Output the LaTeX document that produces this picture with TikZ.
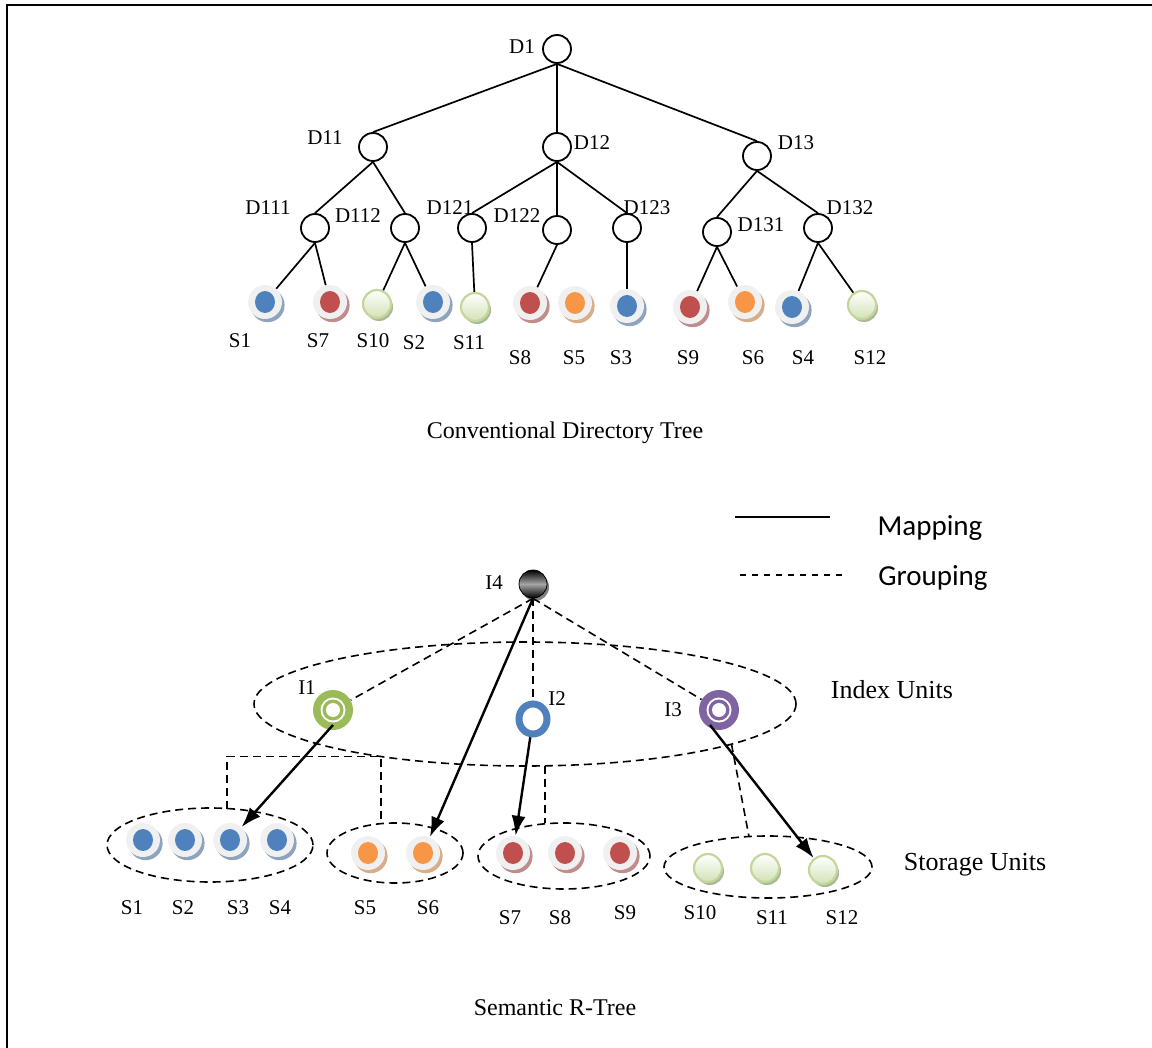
\documentclass[tikz,border=0pt]{standalone}
\usepackage{fontspec}
\setmainfont{Liberation Serif}
\newfontfamily\legendfont{Carlito}
\usetikzlibrary{arrows.meta,shapes.geometric,shadows}
\definecolor{sblue}{HTML}{4F81BD}
\definecolor{sred}{HTML}{C0504D}
\definecolor{sorange}{HTML}{F79646}
\definecolor{sgreen}{HTML}{9BBB59}
\definecolor{spurple}{HTML}{8064A2}
\definecolor{sdisk}{HTML}{F0F0F0}
\definecolor{gborder}{HTML}{C3D69B}
\definecolor{gfill}{HTML}{D3E2B6}
\definecolor{gshadow}{HTML}{AAB897}
\begin{document}
\begin{tikzpicture}[x=0.5pt,y=-0.5pt,
dir/.style={circle,draw,line width=0.9pt,minimum size=14pt,inner sep=0pt},
branch/.style={line width=0.85pt},
lbl/.style={font=\fontsize{10.5}{12}\selectfont,inner sep=0pt},
caption/.style={font=\fontsize{12}{14}\selectfont,inner sep=0pt},
unittext/.style={font=\fontsize{13}{15}\selectfont,inner sep=0pt},
legtext/.style={font=\legendfont\fontsize{14.5}{17}\selectfont,inner sep=0pt},
store/.style={circle,fill=sdisk,minimum size=17pt,inner sep=0pt,
  drop shadow={shadow xshift=1.3pt,shadow yshift=-1.6pt,fill=#1!45!lightgray,opacity=1},
  path picture={\fill[#1] (path picture bounding box.center) ellipse (5pt and 5.5pt);}},
gball/.style={circle,draw=gborder,line width=1.1pt,top color=white,bottom color=gfill,
  minimum size=14pt,inner sep=0pt,
  drop shadow={shadow xshift=1pt,shadow yshift=-1.5pt,fill=gshadow,opacity=1}},
ring/.style={circle,fill=#1,minimum size=20pt,inner sep=0pt,
  path picture={\fill[white] (path picture bounding box.center) circle (6.25pt);
    \fill[#1] (path picture bounding box.center) circle (5.25pt);
    \fill[white] (path picture bounding box.center) circle (3.5pt);}},
grp/.style={dashed,dash pattern=on 4pt off 2.5pt,line width=0.8pt},
mapline/.style={line width=1.2pt,-{Latex[length=10pt,width=7pt]}},
grpell/.style={ellipse,draw,grp,inner sep=0pt,outer sep=0pt}]
\useasboundingbox (0,0) rectangle (1152,1048);
\draw[line width=1.2pt] (1152,5) -- (7,5) -- (7,1048);

\node[dir] (D1) at (557,49) {};
\node[dir] (D11) at (373,147) {};
\node[dir] (D12) at (557,147) {};
\node[dir] (D13) at (757,156) {};
\node[dir] (D111) at (315,228) {};
\node[dir] (D112) at (405,228) {};
\node[dir] (D121) at (472,228) {};
\node[dir] (D122) at (557,230) {};
\node[dir] (D123) at (627,228) {};
\node[dir] (D131) at (717,232) {};
\node[dir] (D132) at (818,228) {};
\node[lbl] (lD1) at (522,47) {D1};
\node[lbl] (lD11) at (325,138) {D11};
\node[lbl] (lD12) at (592,143) {D12};
\node[lbl] (lD13) at (796,143) {D13};
\node[lbl] (lD111) at (268,208) {D111};
\node[lbl] (lD112) at (358,216) {D112};
\node[lbl] (lD121) at (450,208) {D121};
\node[lbl] (lD122) at (517,216) {D122};
\node[lbl] (lD123) at (647,208) {D123};
\node[lbl] (lD131) at (761,225) {D131};
\node[lbl] (lD132) at (850,208) {D132};

\node[store=sblue] (cs1) at (265,302) {};
\node[store=sred] (cs7) at (330,302) {};
\node[gball] (cs10) at (377,304) {};
\node[store=sblue] (cs2) at (433,302) {};
\node[gball] (cs11) at (475,307) {};
\node[store=sred] (cs8) at (530,303) {};
\node[store=sorange] (cs5) at (575,303) {};
\node[store=sblue] (cs3) at (627,306) {};
\node[store=sred] (cs9) at (690,307) {};
\node[store=sorange] (cs6) at (745,302) {};
\node[store=sblue] (cs4) at (792,307) {};
\node[gball] (cs12) at (862,305) {};
\node[lbl] (lcs1) at (240,341) {S1};
\node[lbl] (lcs7) at (318,341) {S7};
\node[lbl] (lcs10) at (373,341) {S10};
\node[lbl] (lcs2) at (414,343) {S2};
\node[lbl] (lcs11) at (469,343) {S11};
\node[lbl] (lcs8) at (520,358) {S8};
\node[lbl] (lcs5) at (574,358) {S5};
\node[lbl] (lcs3) at (621,358) {S3};
\node[lbl] (lcs9) at (688,358) {S9};
\node[lbl] (lcs6) at (753,358) {S6};
\node[lbl] (lcs4) at (803,358) {S4};
\node[lbl] (lcs12) at (870,358) {S12};

\draw[branch] (D1.south) -- (D11.north);
\draw[branch] (D1.south) -- (D12.north);
\draw[branch] (D1.south) -- (D13.north);
\draw[branch] (D11.south) -- (D111.north);
\draw[branch] (D11.south) -- (D112.north);
\draw[branch] (D12.south) -- (D121.north);
\draw[branch] (D12.south) -- (D122.north);
\draw[branch] (D12.south) -- (D123.north);
\draw[branch] (D13.south) -- (D131.north);
\draw[branch] (D13.south) -- (D132.north);
\draw[branch] (D111.south) -- (cs1);
\draw[branch] (D111.south) -- (cs7);
\draw[branch] (D112.south) -- (cs10);
\draw[branch] (D112.south) -- (cs2);
\draw[branch] (D121.south) -- (cs11);
\draw[branch] (D122.south) -- (cs8);
\draw[branch] (D123.south) -- (cs3);
\draw[branch] (D131.south) -- (cs9);
\draw[branch] (D131.south) -- (cs6);
\draw[branch] (D132.south) -- (cs4);
\draw[branch] (D132.south) -- (cs12);

\node[caption] (tree1) at (565,433) {Conventional Directory Tree};

\coordinate (m1) at (735,517);
\coordinate (m2) at (830,517);
\coordinate (g1) at (740,575);
\coordinate (g2) at (845,575);
\draw[line width=1pt] (m1) -- (m2);
\draw[dashed,dash pattern=on 3pt off 3pt,line width=0.7pt] (g1) -- (g2);
\node[legtext] (mapping) at (930,528) {Mapping};
\node[legtext] (grouping) at (933,578) {Grouping};

\node[grpell,minimum width=271pt,minimum height=62pt] (IU) at (525,704) {};
\node[unittext] (units1) at (892,690) {Index Units};
\node[circle,draw=black,top color=black,bottom color=black,middle color=gray!70,
  minimum size=14pt,inner sep=0pt,
  drop shadow={shadow xshift=1pt,shadow yshift=-1.5pt,fill=gray,opacity=1}] (I4) at (533,584) {};
\node[ring=sgreen] (I1) at (333,710) {};
\node[ellipse,draw=sblue,line width=3.5pt,minimum width=14pt,minimum height=15pt,inner sep=0pt] (I2) at (533,719) {};
\node[ring=spurple] (I3) at (719,710) {};
\node[lbl] (lI4) at (494,583) {I4};
\node[lbl] (lI1) at (307,688) {I1};
\node[lbl] (lI2) at (557,699) {I2};
\node[lbl] (lI3) at (673,710) {I3};

\node[grpell,minimum width=103pt,minimum height=37pt] (E1) at (210,845) {};
\node[grpell,minimum width=68pt,minimum height=30pt] (E2) at (395,853) {};
\node[grpell,minimum width=86pt,minimum height=33pt] (E3) at (564,856) {};
\node[grpell,minimum width=104pt,minimum height=31pt] (E4) at (768,867) {};
\node[unittext] (units2) at (975,865) {Storage Units};

\node[store=sblue] (rs1) at (143,840) {};
\node[store=sblue] (rs2) at (185,840) {};
\node[store=sblue] (rs3) at (230,840) {};
\node[store=sblue] (rs4) at (277,840) {};
\node[store=sorange] (rs5) at (368,853) {};
\node[store=sorange] (rs6) at (423,853) {};
\node[store=sred] (rs7) at (513,853) {};
\node[store=sred] (rs8) at (565,853) {};
\node[store=sred] (rs9) at (620,853) {};
\node[gball] (rs10) at (708,868) {};
\node[gball] (rs11) at (765,868) {};
\node[gball] (rs12) at (823,870) {};
\node[lbl] (lrs1) at (132,908) {S1};
\node[lbl] (lrs2) at (183,908) {S2};
\node[lbl] (lrs3) at (238,908) {S3};
\node[lbl] (lrs4) at (280,908) {S4};
\node[lbl] (lrs5) at (365,908) {S5};
\node[lbl] (lrs6) at (428,908) {S6};
\node[lbl] (lrs7) at (510,918) {S7};
\node[lbl] (lrs8) at (560,918) {S8};
\node[lbl] (lrs9) at (625,913) {S9};
\node[lbl] (lrs10) at (700,913) {S10};
\node[lbl] (lrs11) at (772,918) {S11};
\node[lbl] (lrs12) at (842,918) {S12};

\draw[grp] (I4.south) -- (I1);
\draw[grp] (I4.south) -- (I2);
\draw[grp] (I4.south) -- (I3);
\draw[grp] (E1.65) |- (IU.200) -- (IU.200 |- E2.north);
\draw[grp] (IU.288) -- (IU.288 |- E3.north);
\draw[grp] (IU.349) -- (E4.122);

\draw[mapline] ([yshift=-7.5pt]I1.center) -- (rs3);
\draw[mapline] (I4.south) -- (rs6);
\draw[mapline] (I2) -- (rs7);
\draw[mapline] ([xshift=-4.5pt,yshift=-7.5pt]I3.center) -- (rs12);

\node[caption] (tree2) at (555,1008) {Semantic R-Tree};
\end{tikzpicture}
\end{document}
